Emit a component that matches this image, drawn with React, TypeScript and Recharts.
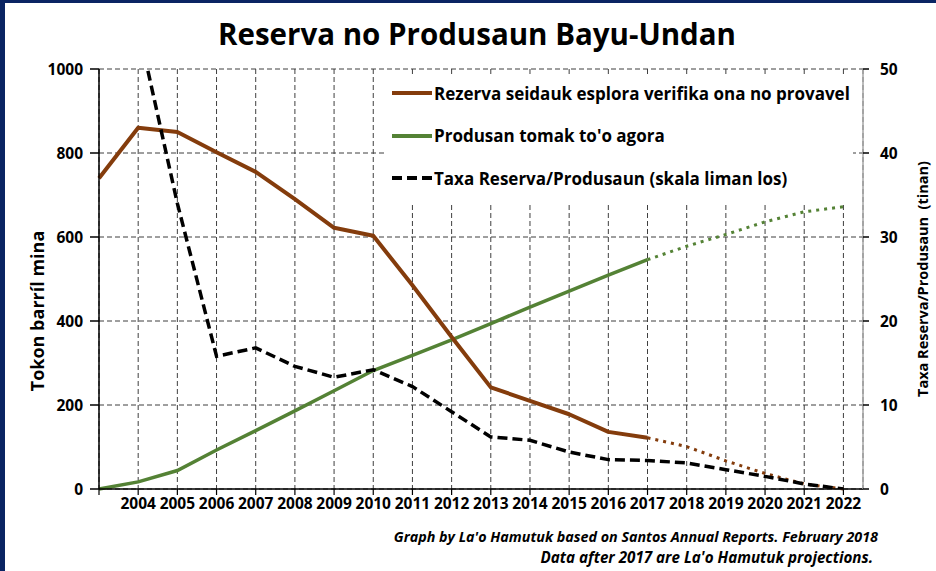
import React from 'react';
import { LineChart, Line, XAxis, YAxis, CartesianGrid } from 'recharts';

const years = [2003, 2004, 2005, 2006, 2007, 2008, 2009, 2010, 2011, 2012, 2013, 2014, 2015, 2016, 2017, 2018, 2019, 2020, 2021, 2022];
const reserves = [740, 860, 850, 802, 755, 690, 622, 603, 485, 362, 242, 210, 178, 136, 122, null, null, null, null, null];
const reservesProj = [null, null, null, null, null, null, null, null, null, null, null, null, null, null, 122, 101, 67, 37, 12, 0];
const production = [0, 17, 44, 93, 139, 186, 234, 282, 318, 355, 394, 433, 471, 509, 546, null, null, null, null, null];
const productionProj = [null, null, null, null, null, null, null, null, null, null, null, null, null, null, 546, 578, 606, 636, 660, 672];
const ratio = [null, 55, 34, 15.8, 16.8, 14.6, 13.3, 14.2, 12.2, 9.2, 6.2, 5.8, 4.4, 3.5, 3.4, 3.1, 2.3, 1.5, 0.6, 0];

const leftTicks = [0, 200, 400, 600, 800, 1000];
const rightTicks = [0, 10, 20, 30, 40, 50];

const title = 'Reserva no Produsaun Bayu-Undan';
const leftTitle = 'Tokon barríl mina';
const rightTitle = 'Taxa Reserva/Produsaun  (tinan)';
const legendItems = [
  { label: 'Rezerva seidauk esplora verifika ona no provavel', color: '#843c0c', dash: '' },
  { label: "Produsan tomak to'o agora", color: '#548235', dash: '' },
  { label: 'Taxa Reserva/Produsaun (skala liman los)', color: '#000000', dash: '10 5' },
];
const notes = [
  "Graph by La'o Hamutuk based on Santos Annual Reports. February 2018",
  "Data after 2017 are La'o Hamutuk projections.",
];

const data = years.map((year, i) => ({
  year,
  reserves: reserves[i],
  reservesProj: reservesProj[i],
  production: production[i],
  productionProj: productionProj[i],
  ratio: ratio[i],
}));

const font = '"Open Sans", sans-serif';
const BROWN = '#843c0c';
const GREEN = '#548235';

export default function App() {
  return (
    <div style={{ position: 'absolute', left: 0, top: 0, width: 936, height: 571, background: '#fff', fontFamily: font, overflow: 'hidden' }}>
      <div style={{ position: 'absolute', left: 0, top: 0, width: 936, height: 3, background: '#0a2463' }} />
      <div style={{ position: 'absolute', left: 0, top: 0, width: 5, height: 571, background: '#0a2463' }} />

      <div style={{ position: 'absolute', left: 177, top: 19, width: 600, textAlign: 'center', fontSize: 29.5, fontWeight: 700, lineHeight: '30px', color: '#000' }}>
        {title}
      </div>

      <LineChart
        width={936}
        height={571}
        data={data}
        margin={{ top: 69, right: 13, bottom: 52, left: 39 }}
        style={{ position: 'absolute', left: 0, top: 0 }}
      >
        <CartesianGrid yAxisId="left" stroke="#3f3f3f" strokeDasharray="5 3" strokeWidth={1} />
        <XAxis
          dataKey="year"
          type="number"
          domain={[2003, 2022.5]}
          ticks={years}
          tickFormatter={(v: number) => (v === 2003 ? '' : String(v))}
          height={30}
          tickSize={6}
          tickMargin={3}
          axisLine={{ stroke: '#000', strokeWidth: 1.5 }}
          tickLine={{ stroke: '#000', strokeWidth: 1.2 }}
          tick={{ fill: '#000', fontSize: 15.5, fontWeight: 700, fontFamily: font }}
          interval={0}
        />
        <YAxis
          yAxisId="left"
          domain={[0, 1000]}
          ticks={leftTicks}
          width={60}
          tickSize={9}
          tickMargin={7}
          axisLine={{ stroke: '#000', strokeWidth: 1.5 }}
          tickLine={{ stroke: '#000', strokeWidth: 1.5 }}
          tick={{ fill: '#000', fontSize: 15.5, fontWeight: 700, fontFamily: font }}
        />
        <YAxis
          yAxisId="right"
          orientation="right"
          domain={[0, 50]}
          allowDataOverflow
          ticks={rightTicks}
          width={60}
          tickSize={6}
          tickMargin={11}
          axisLine={{ stroke: '#a6a6a6', strokeWidth: 1.5 }}
          tickLine={{ stroke: '#000', strokeWidth: 1.5 }}
          tick={{ fill: '#000', fontSize: 15.5, fontWeight: 700, fontFamily: font }}
        />
        <Line yAxisId="left" type="linear" dataKey="production" stroke={GREEN} strokeWidth={3.5} dot={false} isAnimationActive={false} />
        <Line yAxisId="left" type="linear" dataKey="productionProj" stroke={GREEN} strokeWidth={3} strokeDasharray="3 5" dot={false} isAnimationActive={false} />
        <Line yAxisId="left" type="linear" dataKey="reserves" stroke={BROWN} strokeWidth={4} strokeLinejoin="round" dot={false} isAnimationActive={false} />
        <Line yAxisId="left" type="linear" dataKey="reservesProj" stroke={BROWN} strokeWidth={3} strokeDasharray="3 5" dot={false} isAnimationActive={false} />
        <Line yAxisId="right" type="linear" dataKey="ratio" stroke="#000" strokeWidth={3.5} strokeDasharray="10 5" dot={false} isAnimationActive={false} />
      </LineChart>

      <div style={{ position: 'absolute', left: 385, top: 76, width: 468, height: 129, background: '#fff' }}>
        {legendItems.map((item, i) => (
          <div key={item.label} style={{ position: 'absolute', left: 7, top: 5 + i * 42.5, height: 24, display: 'flex', alignItems: 'center', whiteSpace: 'nowrap' }}>
            <svg width={42} height={6} style={{ display: 'block' }}>
              <line x1={0} y1={3} x2={40} y2={3} stroke={item.color} strokeWidth={4} strokeDasharray={item.dash || undefined} />
            </svg>
            <span style={{ fontSize: 17, fontWeight: 700, color: '#000' }}>{item.label}</span>
          </div>
        ))}
      </div>

      <div style={{ position: 'absolute', left: -113, top: 299, width: 300, height: 24, lineHeight: '24px', textAlign: 'center', fontSize: 18, fontWeight: 700, transform: 'rotate(-90deg)' }}>
        {leftTitle}
      </div>
      <div style={{ position: 'absolute', left: 773, top: 268, width: 300, height: 22, lineHeight: '22px', textAlign: 'center', fontSize: 14.5, fontWeight: 700, whiteSpace: 'pre', transform: 'rotate(-90deg)' }}>
        {rightTitle}
      </div>

      <div style={{ position: 'absolute', left: 0, top: 528, width: 878, textAlign: 'right', fontSize: 14.3, fontWeight: 700, fontStyle: 'italic', lineHeight: '18px', whiteSpace: 'nowrap' }}>
        {notes[0]}
      </div>
      <div style={{ position: 'absolute', left: 0, top: 548, width: 873, textAlign: 'right', fontSize: 15.2, fontWeight: 700, fontStyle: 'italic', lineHeight: '18px', whiteSpace: 'nowrap' }}>
        {notes[1]}
      </div>
    </div>
  );
}
